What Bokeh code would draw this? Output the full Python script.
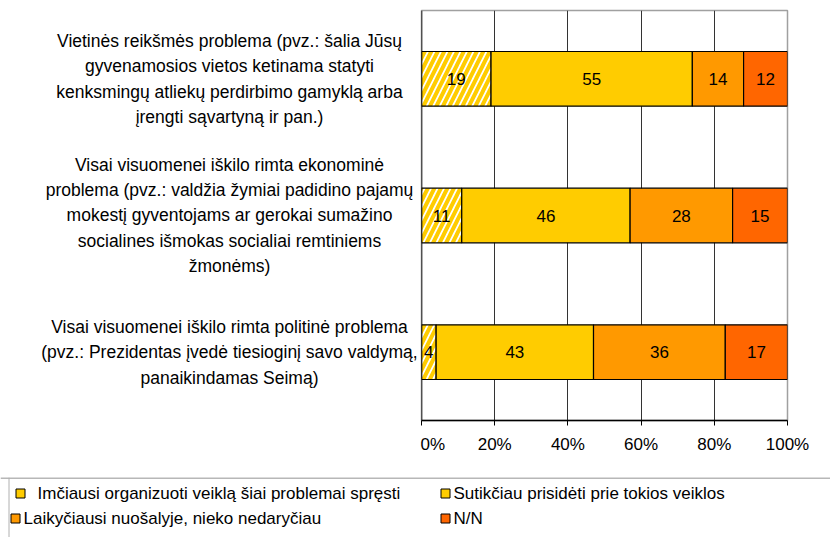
import numpy as np
from bokeh.plotting import figure
from bokeh.models import (FactorRange, Range1d, FixedTicker, PrintfTickFormatter,
                          Span, ColumnDataSource)
from bokeh.layouts import row, column
from bokeh.core.properties import value
from bokeh.embed import file_html
from bokeh.resources import INLINE

# ---------------- data ----------------
categories = [
    "Vietinės reikšmės problema (pvz.: šalia Jūsų\ngyvenamosios vietos ketinama statyti\nkenksmingų atliekų perdirbimo gamyklą arba\nįrengti sąvartyną ir pan.)",
    "Visai visuomenei iškilo rimta ekonominė\nproblema (pvz.: valdžia žymiai padidino pajamų\nmokestį gyventojams ar gerokai sumažino\nsocialines išmokas socialiai remtiniems\nžmonėms)",
    "Visai visuomenei iškilo rimta politinė problema\n(pvz.: Prezidentas įvedė tiesioginį savo valdymą,\npanaikindamas Seimą)",
]
series_names = [
    "Imčiausi organizuoti veiklą šiai problemai spręsti",
    "Sutikčiau prisidėti prie tokios veiklos",
    "Laikyčiausi nuošalyje, nieko nedaryčiau",
    "N/N",
]
organize = [19, 11, 4]
join = [55, 46, 43]
aside = [14, 28, 36]
nn = [12, 15, 17]
x_ticks = [0, 20, 40, 60, 80, 100]

# ---------------- styles ----------------
FONT = "Liberation Sans"
FS = "17px"
colors = ["#FFCC00", "#FFCC00", "#FF9900", "#FF6600"]
fills = ["white", "#FFCC00", "#FF9900", "#FF6600"]
hatches = ["/", None, None, None]

series = [organize, join, aside, nn]
y_range = FactorRange(factors=categories[::-1])

# ---------------- left text figure ----------------
tf = figure(width=420, height=477, x_range=Range1d(0, 420), y_range=y_range,
            output_backend="svg", toolbar_location=None,
            min_border_left=0, min_border_right=0, min_border_top=10, min_border_bottom=57)
tf.axis.visible = False
tf.grid.visible = False
tf.outline_line_color = None
tf.text(x=[229] * len(categories), y=categories, text=categories,
        text_align="center", text_baseline="middle",
        text_font=value(FONT), text_font_size="17.5px", text_color="black",
        text_line_height=1.27)

# ---------------- chart figure ----------------
p = figure(width=410, height=477, x_range=Range1d(0, 100), y_range=y_range,
           output_backend="svg", toolbar_location=None,
           min_border_left=1, min_border_right=43, min_border_top=10, min_border_bottom=57)
p.yaxis.visible = False
p.ygrid.visible = False
p.xgrid.ticker = FixedTicker(ticks=x_ticks[1:-1])
p.xgrid.grid_line_color = "#333333"
p.xgrid.grid_line_width = 1
p.outline_line_color = "#a0a0a0"
p.outline_line_width = 1.5

p.xaxis.ticker = FixedTicker(ticks=x_ticks)
p.xaxis.formatter = PrintfTickFormatter(format="%d%%")
p.xaxis.axis_line_color = "black"
p.xaxis.axis_line_width = 1.5
p.xaxis.major_tick_line_color = "black"
p.xaxis.major_tick_out = 5
p.xaxis.major_tick_in = 0
p.xaxis.minor_tick_line_color = None
p.xaxis.major_label_standoff = 9
p.xaxis.major_label_text_font = FONT
p.xaxis.major_label_text_font_size = FS
p.xaxis.major_label_text_color = "black"

vals = np.array(series, dtype=float)
rights = np.cumsum(vals, axis=0)
lefts = rights - vals
for i in range(len(series)):
    src = ColumnDataSource(dict(y=categories, left=lefts[i], right=rights[i],
                                mid=(lefts[i] + rights[i]) / 2,
                                lab=[str(v) for v in series[i]]))
    kw = dict(fill_color=fills[i], line_color="black", line_width=1.2)
    if hatches[i]:
        kw.update(hatch_pattern=hatches[i], hatch_color=colors[i],
                  hatch_scale=13, hatch_weight=4)
    p.hbar(y="y", left="left", right="right", height=0.4, source=src, **kw)
    p.text(x="mid", y="y", text="lab", source=src, text_align="center",
           text_baseline="middle", text_font=value(FONT), text_font_size=FS,
           text_color="black")

p.add_layout(Span(location=0, dimension="height", line_color="black", line_width=1.5))

# ---------------- legend figure ----------------
lf = figure(width=830, height=60, x_range=Range1d(0, 830), y_range=Range1d(0, 60),
            output_backend="svg", toolbar_location=None,
            min_border_left=0, min_border_right=0, min_border_top=0, min_border_bottom=0)
lf.axis.visible = False
lf.grid.visible = False
lf.outline_line_color = None
lf.add_layout(Span(location=59.5, dimension="width", line_color="#707070", line_width=1.2))
lf.add_layout(Span(location=8.5, dimension="height", line_color="#b0b0b0", line_width=1))

sq_x = [20, 445, 15, 445]
tx_x = [37, 453, 23, 453]
row_y = [44, 44, 19, 19]
for i, name in enumerate(series_names):
    kw = dict(fill_color=fills[i], line_color="black", line_width=1)
    if hatches[i]:
        kw.update(fill_color=colors[i])
    lf.scatter(x=[sq_x[i]], y=[row_y[i]], marker="square", size=9, **kw)
    lf.text(x=[tx_x[i]], y=[row_y[i]], text=[name], text_align="left",
            text_baseline="middle", text_font=value(FONT), text_font_size=FS,
            text_color="black")

layout = column(row(tf, p), lf)
open("out.html", "w").write(file_html(layout, INLINE))
